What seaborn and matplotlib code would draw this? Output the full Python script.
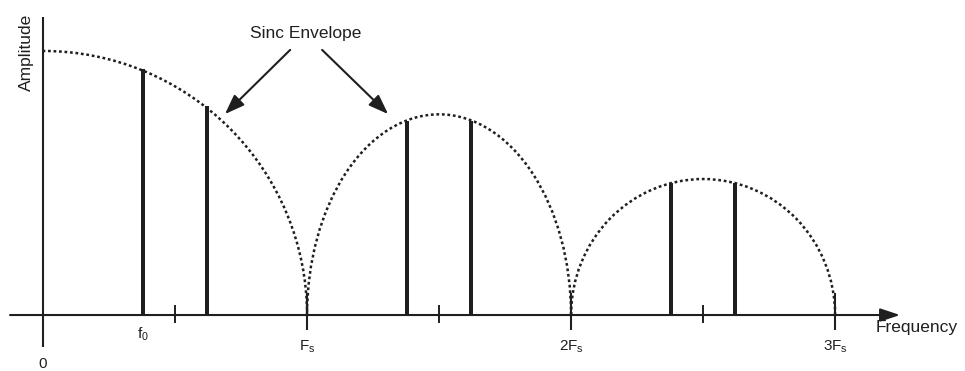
import matplotlib
matplotlib.use("Agg")
import matplotlib.pyplot as plt
from matplotlib.patches import Arc
import pandas as pd
import seaborn as sns

# Spectrum of a sampled tone; frequencies are in units of the sample rate Fs
image_freqs = [0.38, 0.62, 1.38, 1.62, 2.38, 2.62]
image_amps = [0.93, 0.79, 0.735, 0.735, 0.50, 0.50]

# Sinc envelope lobes: centre, half width (in Fs) and peak height
lobe_centers = [0.0, 1.5, 2.5]
lobe_half_widths = [1.0, 0.5, 0.5]
lobe_peaks = [1.0, 0.76, 0.515]
lobe_angles = [(0, 90), (0, 180), (0, 180)]

null_freqs = [1, 2, 3]
half_freqs = [0.5, 1.5, 2.5]
tick_positions = [0.0, 0.38, 1.0, 2.0, 3.0]
tick_labels = ["0", "$f_0$", "$F_s$", "$2F_s$", "$3F_s$"]

sns.set_theme(style="white")
plt.rcParams["font.family"] = ["Liberation Sans", "DejaVu Sans"]
plt.rcParams["mathtext.default"] = "regular"

ink = "#1f1f1f"
fig = plt.figure(figsize=(9.65, 3.71), dpi=100)
ax = fig.add_axes([0, 0, 1, 1])

# spectral images as thin bars
df = pd.DataFrame({"freq": image_freqs, "amp": image_amps})
sns.barplot(data=df, x="freq", y="amp", native_scale=True, orient="x",
            width=0.065, color=ink, saturation=1, linewidth=0,
            errorbar=None, ax=ax, zorder=3)

# dotted sinc envelope
for c, hw, pk, (t1, t2) in zip(lobe_centers, lobe_half_widths, lobe_peaks, lobe_angles):
    ax.add_patch(Arc((c, 0), width=2 * hw, height=2 * pk, theta1=t1, theta2=t2,
                     color=ink, lw=1.8, linestyle=(0, (1.1, 1.1)), zorder=2))

# axes
ax.annotate("", xy=(3.246, 0), xytext=(-0.125, 0),
            arrowprops=dict(arrowstyle="-|>,head_length=0.6,head_width=0.2",
                            mutation_scale=20, lw=1.5, color=ink,
                            shrinkA=0, shrinkB=0), zorder=4)
ax.plot([0, 0], [-0.121, 1.129], color=ink, lw=1.5, solid_capstyle="butt", zorder=4)

for x in half_freqs:
    ax.plot([x, x], [-0.03, 0.038], color=ink, lw=1.4, solid_capstyle="butt", zorder=4)
for x in null_freqs:
    ax.plot([x, x], [-0.057, 0.083], color=ink, lw=1.5, solid_capstyle="butt", zorder=4)

# tick labels
label_y = [-0.186, -0.072, -0.121, -0.121, -0.121]
for x, y, lab in zip(tick_positions, label_y, tick_labels):
    ax.text(x, y, lab, ha="center", va="center", fontsize=11, color=ink)

ax.text(-0.064, 0.996, "Amplitude", rotation=90, ha="center", va="center",
        fontsize=12.5, color=ink)
ax.text(3.152, -0.049, "Frequency", ha="left", va="center", fontsize=12.5, color=ink)
ax.text(0.996, 1.068, "Sinc Envelope", ha="center", va="center", fontsize=12.5, color=ink)

arrow_style = dict(arrowstyle="-|>,head_length=0.6,head_width=0.22",
                   mutation_scale=20, lw=1.5, color=ink, shrinkA=0, shrinkB=0)
ax.annotate("", xy=(0.689, 0.761), xytext=(0.936, 1.004), arrowprops=arrow_style)
ax.annotate("", xy=(1.307, 0.761), xytext=(1.057, 1.004), arrowprops=arrow_style)

ax.set_xlim(-0.163, 3.492)
ax.set_ylim(-0.212, 1.193)
ax.set_axis_off()

fig.savefig("out.png", dpi=100, facecolor="white")
